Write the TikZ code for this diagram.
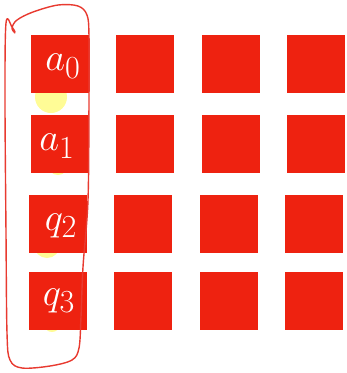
\documentclass[tikz,border=0pt]{standalone}
\usepackage{tikz}
\definecolor{rouge}{RGB}{238,34,16}
\definecolor{trait}{RGB}{232,58,48}
\definecolor{jaune}{RGB}{255,252,150}
\tikzset{
  carre/.style={fill=rouge, minimum size=58pt, inner sep=0pt, outer sep=0pt},
  etiquette/.style={text=white, font=\Huge, scale=1.55, inner sep=0pt},
  tache/.style={fill=jaune, draw=none},
  contour/.style={draw=trait, line width=1.4pt, line join=round, line cap=round},
}
\begin{document}
\begin{tikzpicture}[x=1pt, y=-1pt]
    \useasboundingbox (0,0) rectangle (347,373);
    % Taches jaunes (sous les carres)
    \fill[tache] (51,97)  circle (16);
    \fill[tache] (58,165) circle (10);
    \fill[tache] (47,245) circle (13);
    \fill[tache] (52,324) circle (8);
    % Grille de carres
    \foreach \ligne/\y/\dx in {0/64/0, 1/144/0, 2/224/-2, 3/301/-2} {
      \foreach \col/\x in {0/60, 1/145, 2/231, 3/316} {
        \node[carre] (c\ligne\col) at ({\x+\dx},\y) {};
      }
    }
    % Etiquettes de la premiere colonne
    \node[etiquette] (a0) at (63,66)  {$a_0$};
    \node[etiquette] (a1) at (57,146) {$a_1$};
    \node[etiquette] (q2) at (61,226) {$q_2$};
    \node[etiquette] (q3) at (59,301) {$q_3$};
    % Contour a main levee
    \draw[contour] plot[smooth, tension=0.55] coordinates {
      (15,33) (12,28) (17,20) (33,12) (58,5) (78,6) (87,15) (89,36) (89,100)
      (88,200) (83,267) (81,317) (79,348) (72,360) (50,366) (22,368) (10,360)
      (7,333) (6,233) (5,100) (6,23) (12,27) (15,32)};
  \end{tikzpicture}
\end{document}
